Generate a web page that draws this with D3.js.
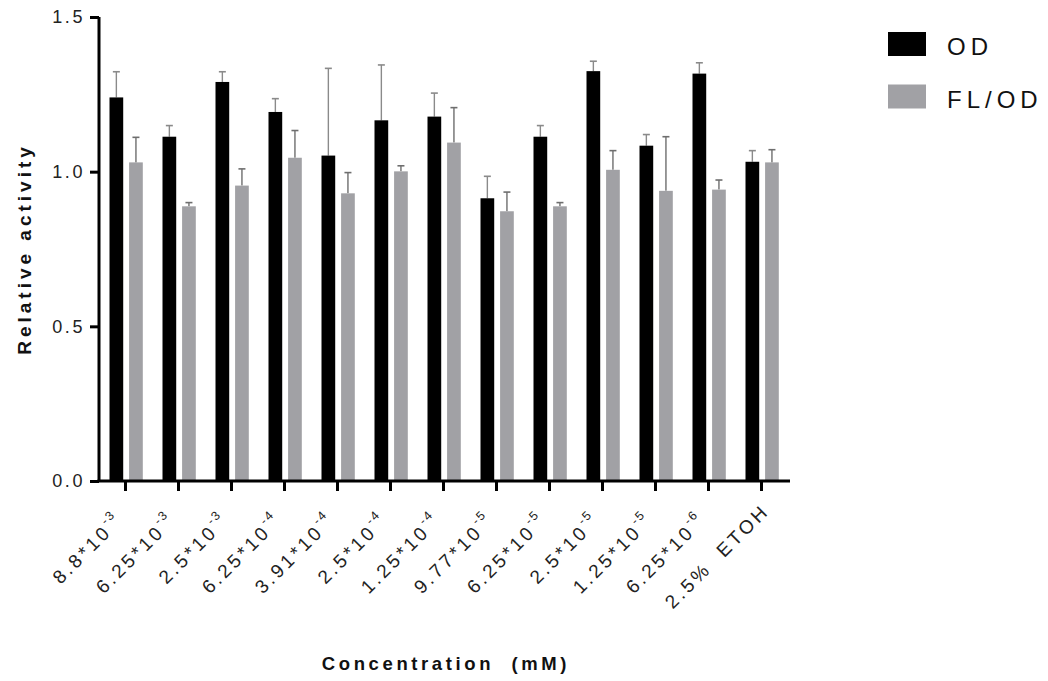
<!DOCTYPE html>
<html>
<head>
<meta charset="utf-8">
<script src="https://cdn.jsdelivr.net/npm/d3@7"></script>
<style>
  html, body { margin: 0; padding: 0; background: #fff; }
  svg { display: block; font-family: Arial, "Liberation Sans", sans-serif; }
</style>
</head>
<body>
<svg id="chart" width="1048" height="681"></svg>
<script>
// Concentrations (mM): mantissa, power-of-ten exponent, or a plain label
const mantissas = ["8.8", "6.25", "2.5", "6.25", "3.91", "2.5", "1.25", "9.77", "6.25", "2.5", "1.25", "6.25", null];
const exponents = ["-3", "-3", "-3", "-4", "-4", "-4", "-4", "-5", "-5", "-5", "-5", "-6", null];
const plainLabels = [null, null, null, null, null, null, null, null, null, null, null, null, "2.5%  ETOH"];

const seriesNames = ["OD", "FL/OD"];
const odMean  = [1.240, 1.113, 1.290, 1.193, 1.052, 1.166, 1.178, 0.914, 1.113, 1.325, 1.084, 1.317, 1.032];
const odErr   = [0.083, 0.036, 0.033, 0.043, 0.282, 0.179, 0.076, 0.071, 0.036, 0.032, 0.036, 0.035, 0.036];
const flMean  = [1.030, 0.888, 0.955, 1.045, 0.930, 1.001, 1.094, 0.872, 0.888, 1.006, 0.938, 0.942, 1.030];
const flErr   = [0.081, 0.012, 0.054, 0.088, 0.067, 0.018, 0.113, 0.062, 0.012, 0.062, 0.175, 0.031, 0.041];

const yTicks = [0, 0.5, 1.0, 1.5];

const colors = { "OD": "#000000", "FL/OD": "#a1a1a5" };
const errColors = { "OD": "#8a8a8a", "FL/OD": "#6e6e6e" };

const svg = d3.select("#chart");
const plot = { left: 99, right: 788, top: 17, bottom: 481 };

const groups = d3.range(odMean.length);
const rows = groups.map(i => ({
  i,
  values: [
    { key: "OD", mean: odMean[i], err: odErr[i] },
    { key: "FL/OD", mean: flMean[i], err: flErr[i] }
  ]
}));

const x = d3.scaleBand().domain(groups).range([plot.left, plot.right]).padding(0);
const xSub = d3.scaleBand().domain(seriesNames).range([10.5, 43.8]).paddingInner(0.3).paddingOuter(0);
const y = d3.scaleLinear().domain([0, 1.5]).range([plot.bottom, plot.top]);

// Bars and error bars
const g = svg.append("g")
  .selectAll("g")
  .data(rows)
  .join("g")
  .attr("transform", d => `translate(${x(d.i)},0)`);

g.selectAll("line.stem")
  .data(d => d.values)
  .join("line")
  .attr("class", "stem")
  .attr("x1", d => xSub(d.key) + xSub.bandwidth() / 2)
  .attr("x2", d => xSub(d.key) + xSub.bandwidth() / 2)
  .attr("y1", d => y(d.mean))
  .attr("y2", d => y(d.mean + d.err))
  .attr("stroke", d => errColors[d.key])
  .attr("stroke-width", 1.4);

g.selectAll("line.cap")
  .data(d => d.values)
  .join("line")
  .attr("class", "cap")
  .attr("x1", d => xSub(d.key) + xSub.bandwidth() / 2 - 3.5)
  .attr("x2", d => xSub(d.key) + xSub.bandwidth() / 2 + 3.5)
  .attr("y1", d => y(d.mean + d.err))
  .attr("y2", d => y(d.mean + d.err))
  .attr("stroke", d => errColors[d.key])
  .attr("stroke-width", 1.6);

g.selectAll("rect")
  .data(d => d.values)
  .join("rect")
  .attr("x", d => xSub(d.key))
  .attr("width", xSub.bandwidth())
  .attr("y", d => y(d.mean))
  .attr("height", d => y(0) - y(d.mean))
  .attr("fill", d => colors[d.key]);

// Y axis
const yAxis = svg.append("g")
  .attr("transform", `translate(${plot.left},0)`)
  .call(d3.axisLeft(y).tickValues(yTicks).tickFormat(d3.format(".1f")).tickSize(9).tickPadding(5));
yAxis.select(".domain").attr("stroke", "#000").attr("stroke-width", 3)
  .attr("d", `M0,${plot.top}V${plot.bottom}`);
yAxis.selectAll(".tick line").attr("stroke", "#000").attr("stroke-width", 3);
yAxis.selectAll(".tick text")
  .attr("font-size", 18)
  .attr("fill", "#222")
  .attr("letter-spacing", "2.6px")
  .attr("font-family", "Arial, 'Liberation Sans', sans-serif");

// X axis
const xAxis = svg.append("g")
  .attr("transform", `translate(0,${plot.bottom})`)
  .call(d3.axisBottom(x).tickSize(10).tickFormat(""));
xAxis.select(".domain").attr("stroke", "#000").attr("stroke-width", 3)
  .attr("d", `M${plot.left - 1.5},0H${plot.right + 2}`);
xAxis.selectAll(".tick line").attr("stroke", "#000").attr("stroke-width", 3);

// Rotated category labels with superscript exponents
const labels = svg.append("g")
  .selectAll("text")
  .data(groups)
  .join("text")
  .attr("transform", i => {
    const cx = x(i) + x.bandwidth() / 2;
    return plainLabels[i]
      ? `translate(${cx + 9},${plot.bottom + 31}) rotate(-45)`
      : `translate(${cx - 2},${plot.bottom + 41}) rotate(-45)`;
  })
  .attr("text-anchor", "end")
  .attr("font-size", 19)
  .attr("fill", "#222")
  .attr("xml:space", "preserve")
  .attr("letter-spacing", "3.2px");

labels.each(function (i) {
  const t = d3.select(this);
  if (plainLabels[i]) {
    t.append("tspan").text(plainLabels[i]);
  } else {
    t.append("tspan").text(mantissas[i] + "*10");
    t.append("tspan").attr("font-size", 12.5).attr("dy", -10).attr("letter-spacing", "2px").text(exponents[i]);
  }
});

// Axis titles
svg.append("text")
  .attr("transform", `translate(31,${(plot.top + plot.bottom) / 2}) rotate(-90)`)
  .attr("text-anchor", "middle")
  .attr("font-size", 19)
  .attr("font-weight", "bold")
  .attr("letter-spacing", "4px")
  .attr("fill", "#111")
  .text("Relative activity");

svg.append("text")
  .attr("x", 446)
  .attr("y", 670)
  .attr("text-anchor", "middle")
  .attr("font-size", 18.5)
  .attr("font-weight", "bold")
  .attr("letter-spacing", "3.6px")
  .attr("fill", "#111")
  .attr("xml:space", "preserve")
  .text("Concentration  (mM)");

// Legend
const legend = svg.append("g").attr("transform", "translate(888,32)");
const items = legend.selectAll("g")
  .data(seriesNames)
  .join("g")
  .attr("transform", (d, k) => `translate(0,${k * 52.5})`);
items.append("rect")
  .attr("width", 38)
  .attr("height", 24)
  .attr("fill", d => colors[d]);
items.append("text")
  .attr("x", 59)
  .attr("y", 23)
  .attr("font-size", 24)
  .attr("letter-spacing", "5px")
  .attr("fill", "#111")
  .text(d => d);
</script>
</body>
</html>
